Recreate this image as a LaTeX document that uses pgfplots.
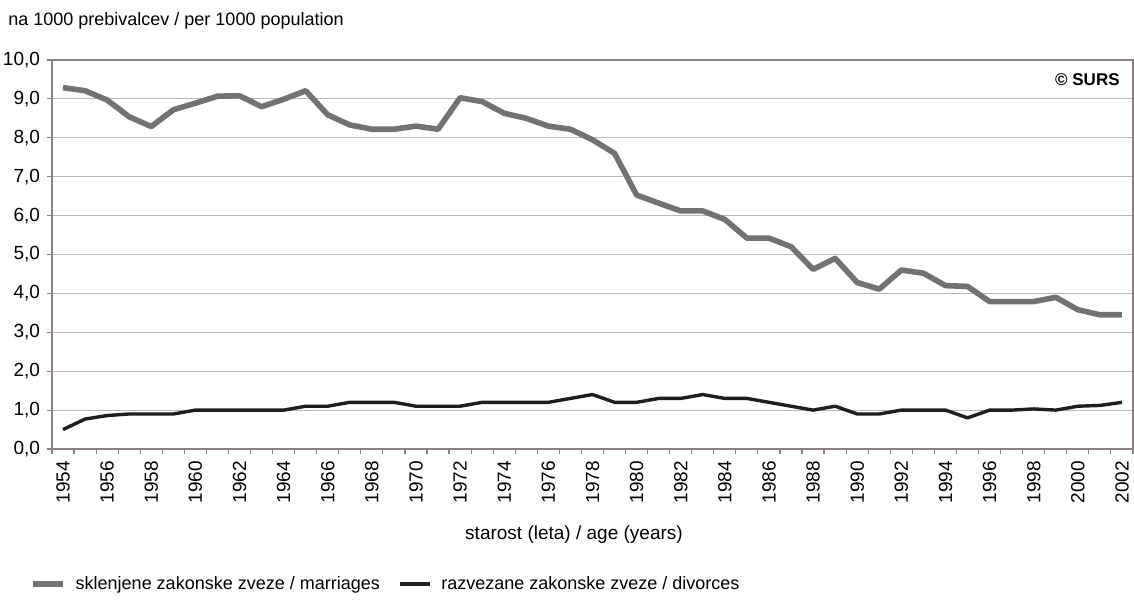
\documentclass[border=0pt]{standalone}
\usepackage{fontspec}
\setmainfont{Liberation Sans}
\usepackage{pgfplots}
\pgfplotsset{compat=1.18}
\usepackage{pgfplotstable}
\definecolor{marr}{HTML}{727272}
\definecolor{divo}{HTML}{1E1E1E}
\definecolor{gridc}{HTML}{C4B4B8}
\definecolor{framec}{HTML}{8A8086}

% year, marriages, divorces (per 1000 population)
\pgfplotstableread{
year marr div
1954 9.29 0.50
1955 9.21 0.77
1956 8.97 0.86
1957 8.54 0.90
1958 8.29 0.90
1959 8.72 0.90
1960 8.89 1.00
1961 9.07 1.00
1962 9.08 1.00
1963 8.80 1.00
1964 8.99 1.00
1965 9.21 1.10
1966 8.59 1.10
1967 8.33 1.20
1968 8.22 1.20
1969 8.22 1.20
1970 8.30 1.10
1971 8.22 1.10
1972 9.03 1.10
1973 8.93 1.20
1974 8.63 1.20
1975 8.50 1.20
1976 8.30 1.20
1977 8.22 1.30
1978 7.95 1.40
1979 7.60 1.20
1980 6.53 1.20
1981 6.32 1.30
1982 6.12 1.30
1983 6.12 1.40
1984 5.90 1.30
1985 5.42 1.30
1986 5.42 1.20
1987 5.20 1.10
1988 4.62 1.00
1989 4.90 1.10
1990 4.28 0.90
1991 4.11 0.90
1992 4.60 1.00
1993 4.52 1.00
1994 4.20 1.00
1995 4.18 0.80
1996 3.79 1.00
1997 3.79 1.00
1998 3.79 1.03
1999 3.90 1.00
2000 3.58 1.10
2001 3.45 1.12
2002 3.45 1.20
}\datatab

\begin{document}
\begin{tikzpicture}
\useasboundingbox (0,0) rectangle (567pt,300pt);
\begin{axis}[
  at={(26pt,75.5pt)}, anchor=south west,
  scale only axis, width=540.5pt, height=194.5pt,
  xmin=1953.5, xmax=2002.5, ymin=0, ymax=10,
  ytick={0,1,...,10},
  xtick={1954,1956,...,2002},
  minor xtick={1953.5,1954.5,...,2002.5},
  tick pos=left, tick align=outside,
  major tick length=2.5pt, minor tick length=2.5pt,
  major x tick style={draw=none},
  every tick/.style={framec, line width=0.6pt},
  axis line style={framec, line width=0.8pt},
  ymajorgrids, grid style={gridc, line width=0.6pt},
  tick label style={font=\fontsize{9.5}{10}\selectfont},
  x tick label style={rotate=90, anchor=east, /pgf/number format/1000 sep={}},
  y tick label style={/pgf/number format/.cd, fixed, fixed zerofill, precision=1, use comma},
  /pgf/number format/assume math mode=true,
  legend columns=2,
  legend style={draw=none, fill=none, inner sep=0pt,
    at={(-0.0206,-0.347)}, anchor=west,
    font=\fontsize{9}{11}\selectfont,
    /tikz/every even column/.append style={column sep=7pt}},
  legend image code/.code={\draw[#1] (0pt,0pt) -- (15pt,0pt); \path (18pt,0pt);},
]
\addplot[marr, line width=2.8pt, line join=round] table[x=year, y=marr] {\datatab};
\addlegendentry{sklenjene zakonske zveze / marriages}
\addplot[divo, line width=1.7pt, line join=round] table[x=year, y=div] {\datatab};
\addlegendentry{razvezane zakonske zveze / divorces}
\node[anchor=north east, font=\bfseries\fontsize{8.5}{10}\selectfont, inner sep=0pt]
  at (rel axis cs:0.988,0.965) {© SURS};
\end{axis}
\node[anchor=base west, inner sep=0pt, font=\fontsize{9}{10}\selectfont] at (4pt,287pt)
  {na 1000 prebivalcev / per 1000 population};
\node[font=\fontsize{9.5}{10}\selectfont] at (287pt,32.5pt) {starost (leta) / age (years)};
\end{tikzpicture}
\end{document}
